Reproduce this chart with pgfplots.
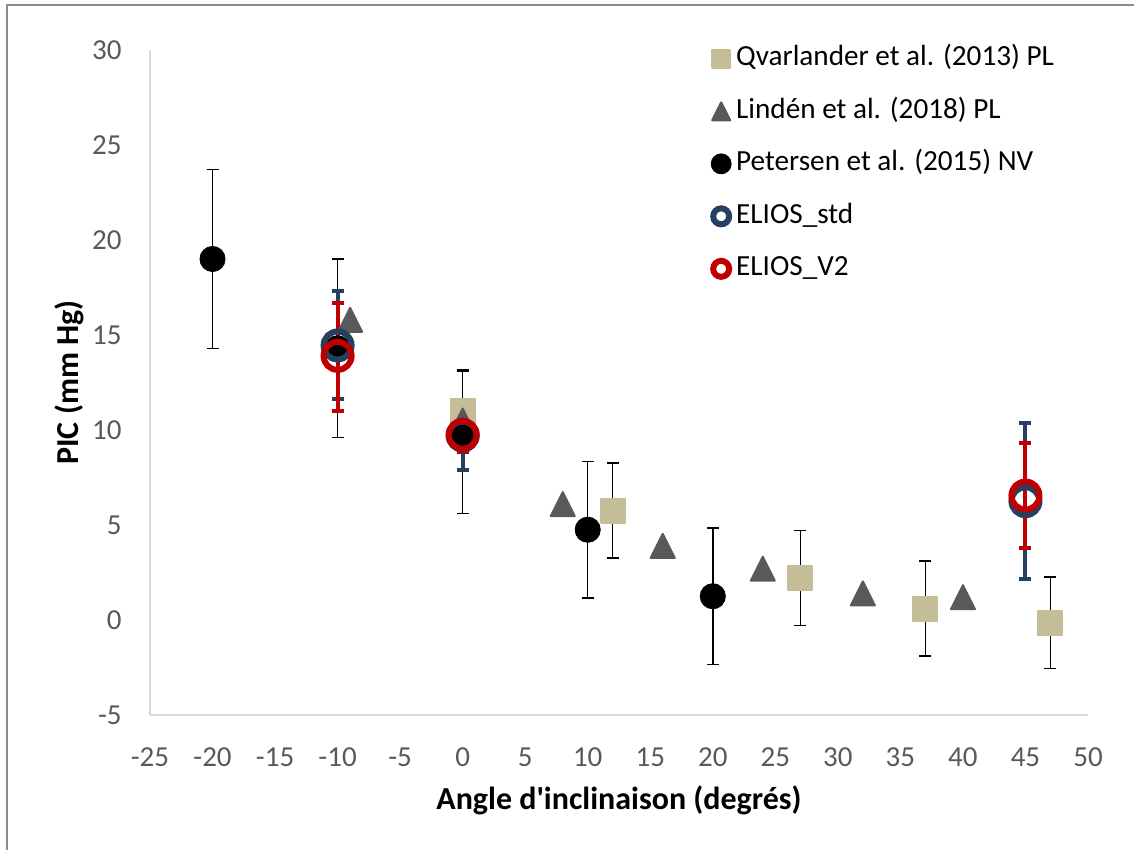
\documentclass[border=0pt]{standalone}
\usepackage{fontspec}
\setmainfont{Carlito}
\usepackage{pgfplots}
\usepackage{pgfplotstable}
\pgfplotsset{compat=1.18}
\definecolor{tan}{HTML}{C4BD97}
\definecolor{trigray}{HTML}{595959}
\definecolor{eblue}{HTML}{254061}
\definecolor{ered}{HTML}{C00000}
\definecolor{axisgray}{HTML}{D9D9D9}
\definecolor{tickgray}{HTML}{595959}
\definecolor{bordergray}{HTML}{8C8C8C}
\pgfdeclareplotmark{xtri}{%
  \pgfpathmoveto{\pgfqpoint{0pt}{\pgfplotmarksize}}%
  \pgfpathlineto{\pgfqpoint{\pgfplotmarksize}{-\pgfplotmarksize}}%
  \pgfpathlineto{\pgfqpoint{-\pgfplotmarksize}{-\pgfplotmarksize}}%
  \pgfpathclose
  \pgfusepathqfillstroke}
\pgfplotstableread{
x y ep em
0 11.0 2.1 2.1
12 5.75 2.5 2.5
27 2.2 2.5 2.5
37 0.6 2.5 2.5
47 -0.15 2.4 2.4
}\qv
\pgfplotstableread{
x y
-9 15.8
0 10.5
8 6.1
16 3.9
24 2.7
32 1.4
40 1.2
}\li
\pgfplotstableread{
x y ep em
-20 19.0 4.7 4.7
-10 14.3 4.7 4.7
0 9.7 3.45 4.1
10 4.75 3.6 3.6
20 1.25 3.6 3.6
}\pe
\pgfplotstableread{
x y ep em
-10 14.45 2.85 2.8
0 9.7 1.8 1.8
45 6.25 4.1 4.1
}\es
\pgfplotstableread{
x y ep em
-10 13.9 2.8 2.9
0 9.75 0.9 0.9
45 6.55 2.75 2.75
}\ev
\begin{document}
\begin{tikzpicture}
\useasboundingbox (0,0) rectangle (567pt,425pt);
\draw[bordergray, line width=1pt] (3.5pt,0) -- (3.5pt,422.5pt) -- (567pt,422.5pt);
\begin{axis}[
  at={(75pt,67.5pt)}, anchor=south west,
  scale only axis, width=469pt, height=332.5pt,
  xmin=-25, xmax=50, ymin=-5, ymax=30,
  xtick={-25,-20,...,50}, ytick={-5,0,...,30},
  axis x line*=bottom, axis y line*=left,
  axis line style={draw=axisgray, line width=0.9pt},
  major tick length=0pt,
  /pgf/number format/assume math mode=true,
  tick label style={font=\fontsize{14.5}{16}\selectfont, text=tickgray, inner sep=0pt},
  yticklabel style={anchor=east, xshift=-14pt},
  xticklabel style={anchor=north, yshift=-16pt},
  clip=false,
  xlabel={Angle d\textquotesingle inclinaison (degrés)},
  ylabel={PIC (mm Hg)},
  every axis x label/.style={at={(axis description cs:0.5,0)}, anchor=center, yshift=-42.5pt, font=\fontsize{16}{18}\selectfont\bfseries},
  every axis y label/.style={at={(axis description cs:0,0.5)}, anchor=center, rotate=90, yshift=40.5pt, font=\fontsize{16}{18}\selectfont\bfseries},
  legend image code/.code={\draw[mark repeat=2,mark phase=2,#1] plot coordinates {(0cm,0cm) (0.15cm,0cm) (0.3cm,0cm)};},
  legend style={at={(axis cs:19.36,30.45)}, anchor=north west, draw=none, fill=none,
    font=\fontsize{14.6}{16}\selectfont, row sep=13.25pt,
    nodes={inner sep=0pt, text height=10pt, text depth=3pt},
    /tikz/every odd column/.append style={column sep=2.5pt}},
  legend cell align=left,
]
\addplot[only marks, mark=square*, mark size=6pt, mark options={fill=tan, draw=tan, line width=1pt, line join=round},
  legend image post style={mark size=4.6pt},
  error bars/.cd, y dir=both, y explicit, error mark=|,
  error bar style={black, line width=0.75pt},
  error mark options={black, mark size=3pt, line width=0.75pt}]
  table[x=x, y=y, y error plus=ep, y error minus=em]{\qv};
\addlegendentry{Qvarlander et al. (2013) PL}
\addplot[only marks, mark=xtri, mark size=6pt, mark options={fill=trigray, draw=trigray, line width=1pt, line join=round},
  legend image post style={mark size=4.5pt}]
  table[x=x, y=y]{\li};
\addlegendentry{Lindén et al. (2018) PL}
\addplot[only marks, mark=*, mark size=6.3pt, mark options={fill=black, draw=black, line width=0.4pt},
  legend image post style={mark size=5pt},
  error bars/.cd, y dir=both, y explicit, error mark=|,
  error bar style={black, line width=0.75pt},
  error mark options={black, mark size=3pt, line width=0.75pt}]
  table[x=x, y=y, y error plus=ep, y error minus=em]{\pe};
\addlegendentry{Petersen et al. (2015) NV}
\addplot[only marks, mark=o, mark size=7pt, mark options={draw=eblue, line width=3pt},
  legend image post style={mark size=4pt, line width=2pt},
  error bars/.cd, y dir=both, y explicit, error mark=|,
  error bar style={eblue, line width=2pt},
  error mark options={eblue, mark size=3pt, line width=2pt}]
  table[x=x, y=y, y error plus=ep, y error minus=em]{\es};
\addlegendentry{ELIOS\_std}
\addplot[only marks, mark=o, mark size=7pt, mark options={draw=ered, line width=3pt},
  legend image post style={mark size=4pt, line width=2pt},
  error bars/.cd, y dir=both, y explicit, error mark=|,
  error bar style={ered, line width=2pt},
  error mark options={ered, mark size=3pt, line width=2pt}]
  table[x=x, y=y, y error plus=ep, y error minus=em]{\ev};
\addlegendentry{ELIOS\_V2}
\end{axis}
\end{tikzpicture}
\end{document}
